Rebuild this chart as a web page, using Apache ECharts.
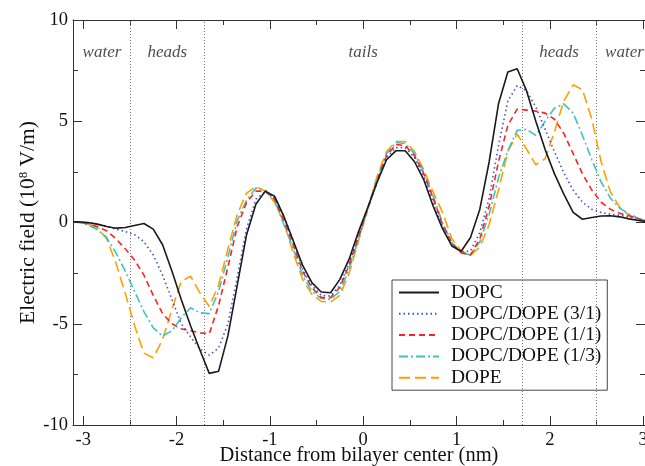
<!DOCTYPE html>
<html>
<head>
<meta charset="utf-8">
<script src="https://cdn.jsdelivr.net/npm/echarts@6/dist/echarts.min.js"></script>
<style>
  html, body { margin: 0; padding: 0; background: #fff; }
  #chart { width: 645px; height: 466px; }
</style>
</head>
<body>
<div id="chart"></div>
<script>
// distance from bilayer center (nm)
const distance = [
  -3.11, -3.05, -2.95, -2.85, -2.75, -2.65, -2.55, -2.45, -2.35, -2.25, -2.15, -2.05,
  -1.95, -1.85, -1.75, -1.65, -1.55, -1.45, -1.35, -1.25, -1.15, -1.05, -0.95, -0.85,
  -0.75, -0.65, -0.55, -0.45, -0.35, -0.25, -0.15, -0.05, 0.05, 0.15, 0.25, 0.35,
  0.45, 0.55, 0.65, 0.75, 0.85, 0.95, 1.05, 1.15, 1.25, 1.35, 1.45, 1.55,
  1.65, 1.75, 1.85, 1.95, 2.05, 2.15, 2.25, 2.35, 2.45, 2.55, 2.65, 2.75,
  2.85, 2.95, 3.05, 3.11
]

// electric field (10^8 V/m)
const dopc = [
  0.03, 0.03, 0.0, -0.08, -0.2, -0.28, -0.25, -0.15, -0.05, -0.33, -1.1, -2.4,
  -3.8, -5.1, -6.3, -7.45, -7.35, -5.6, -3.1, -0.6, 0.9, 1.55, 1.3, 0.3,
  -0.9, -2.1, -2.97, -3.43, -3.47, -2.81, -1.8, -0.45, 0.75, 2.0, 3.1, 3.54,
  3.54, 3.0, 2.1, 0.8, -0.3, -1.16, -1.42, -0.74, 0.66, 3.0, 5.86, 7.43,
  7.59, 6.51, 5.0, 3.6, 2.4, 1.4, 0.5, 0.16, 0.25, 0.32, 0.33, 0.28,
  0.18, 0.1, 0.04, 0.0
]
const dopcDope31 = [
  0.03, 0.02, -0.02, -0.08, -0.18, -0.33, -0.45, -0.6, -0.95, -1.6, -2.6, -3.8,
  -5.0, -5.65, -6.25, -6.55, -6.2, -5.0, -2.7, -0.3, 1.15, 1.52, 1.24, 0.3,
  -0.9, -2.3, -3.1, -3.6, -3.63, -3.1, -2.0, -0.6, 0.7, 2.0, 3.2, 3.7,
  3.7, 3.2, 2.3, 1.0, -0.2, -1.1, -1.45, -1.4, -0.5, 1.2, 3.8, 6.0,
  6.76, 6.51, 5.7, 4.6, 3.5, 2.45, 1.6, 1.0, 0.65, 0.5, 0.41, 0.36,
  0.28, 0.15, 0.05, 0.0
]
const dopcDope11 = [
  0.03, 0.02, -0.06, -0.2, -0.41, -0.8, -1.3, -1.85, -2.6, -3.6, -4.5, -5.0,
  -5.25, -5.35, -5.45, -5.5, -4.1, -2.2, -0.2, 0.99, 1.55, 1.55, 1.15, 0.1,
  -1.1, -2.4, -3.22, -3.71, -3.71, -3.2, -2.1, -0.7, 0.7, 2.1, 3.3, 3.85,
  3.8, 3.3, 2.4, 1.2, -0.1, -1.0, -1.5, -1.6, -0.8, 0.8, 3.0, 4.8,
  5.6, 5.55, 5.5, 5.4, 5.1, 4.4, 3.4, 2.4, 1.6, 1.0, 0.65, 0.45,
  0.33, 0.18, 0.06, 0.0
]
const dopcDope13 = [
  0.03, 0.0, -0.12, -0.35, -0.74, -1.5, -2.4, -3.4, -4.4, -5.2, -5.6, -5.35,
  -4.7, -4.21, -4.46, -4.5, -3.4, -1.7, 0.1, 1.1, 1.7, 1.6, 1.1, -0.1,
  -1.3, -2.6, -3.4, -3.75, -3.8, -3.4, -2.3, -0.8, 0.7, 2.2, 3.4, 3.95,
  3.9, 3.4, 2.5, 1.3, 0.0, -1.0, -1.5, -1.6, -0.95, 0.4, 2.2, 3.55,
  4.55, 4.6, 4.3, 5.0, 5.65, 5.86, 5.4, 4.3, 3.1, 2.0, 1.2, 0.7,
  0.42, 0.2, 0.06, 0.0
]
const dope = [
  0.03, 0.02, -0.06, -0.25, -0.8, -2.0, -3.5, -5.1, -6.45, -6.68, -5.78, -4.3,
  -2.9, -2.65, -3.47, -4.15, -3.1, -1.3, 0.4, 1.45, 1.78, 1.55, 1.0, 0.0,
  -1.5, -2.8, -3.55, -3.9, -3.93, -3.6, -2.5, -0.9, 0.7, 2.3, 3.5, 4.0,
  4.0, 3.5, 2.6, 1.5, 0.5, -0.8, -1.4, -1.62, -1.2, -0.1, 1.6, 3.5,
  4.37, 3.63, 2.85, 3.15, 4.5, 6.0, 6.8, 6.55, 5.1, 3.0, 1.5, 0.75,
  0.35, 0.18, 0.06, 0.0
]

const seriesNames = ['DOPC', 'DOPC/DOPE (3/1)', 'DOPC/DOPE (1/1)', 'DOPC/DOPE (1/3)', 'DOPE']
const seriesValues = [dopc, dopcDope31, dopcDope11, dopcDope13, dope]

// region boundaries and labels
const boundaries = [-2.5, -1.7, 1.7, 2.5]
const regionNames = ['water', 'heads', 'tails', 'heads', 'water']
const regionX = [-2.8, -2.1, 0, 2.1, 2.8]
const regionY = 8.4

const xMajorTicks = [-3, -2, -1, 0, 1, 2, 3]
const xMinorTicks = [-2.5, -1.5, -0.5, 0.5, 1.5, 2.5]

const colors = ['#1a1a1a', '#3a56c8', '#ff2222', '#3ec4bc', '#ffa000']
const dashes = ['solid', [1.5, 3], [6, 4], [9, 3, 2, 3], [11, 5]]

const serif = 'Liberation Serif'
const frameColor = '#333'

const chart = echarts.init(document.getElementById('chart'))

// the picture is cut at the right, just past x = 3
const xCommon = (pos, ticks, len, showLabel, showLine) => ({
  type: 'value',
  position: pos,
  min: -3.11,
  max: 3.02,
  axisLine: { show: showLine, onZero: false, lineStyle: { color: frameColor, width: 1 } },
  axisTick: { show: true, inside: true, length: len, customValues: ticks, lineStyle: { color: frameColor } },
  axisLabel: showLabel
    ? { show: true, customValues: ticks, margin: 6, color: '#111', fontFamily: serif, fontSize: 18.5 }
    : { show: false },
  splitLine: { show: false }
})

const yCommon = (pos, showLabel) => ({
  type: 'value',
  position: pos,
  min: -10,
  max: 10,
  interval: 5,
  axisLine: { show: true, onZero: false, lineStyle: { color: frameColor } },
  axisTick: { show: true, inside: true, length: 9, lineStyle: { color: frameColor } },
  minorTick: { show: true, splitNumber: 2, length: 5, lineStyle: { color: frameColor } },
  axisLabel: showLabel
    ? { margin: 5, color: '#111', fontFamily: serif, fontSize: 18.5 }
    : { show: false },
  splitLine: { show: false }
})

const lineSeries = seriesNames.map((name, i) => ({
  name,
  type: 'line',
  xAxisIndex: 0,
  yAxisIndex: 0,
  data: distance.map((d, k) => [d, seriesValues[i][k]]),
  symbol: 'none',
  smooth: false,
  z: 10 - i,
  itemStyle: { color: colors[i] },
  lineStyle: { color: colors[i], width: 1.6, type: dashes[i] }
}))

const option = {
  animation: false,
  backgroundColor: '#fff',
  grid: { left: 73, top: 20, right: 0, bottom: 41, containLabel: false, outerBoundsMode: 'none' },
  legend: {
    data: seriesNames,
    orient: 'vertical',
    left: 392,
    top: 280,
    padding: [3, 6, 3, 6],
    itemGap: 2.3,
    itemWidth: 40,
    itemHeight: 14,
    backgroundColor: '#fff',
    borderColor: '#444',
    borderWidth: 1,
    borderRadius: 0,
    itemStyle: { color: 'transparent', borderWidth: 0, opacity: 0 },
    textStyle: { fontFamily: serif, fontSize: 19.4, color: '#111', padding: [0, 0, 0, 7] }
  },
  xAxis: [
    Object.assign(xCommon('bottom', xMajorTicks, 9, true, true), {
      name: 'Distance from bilayer center (nm)',
      nameLocation: 'middle',
      nameGap: 20,
      nameMoveOverlap: false,
      nameTextStyle: { fontFamily: serif, fontSize: 20.5, color: '#111' }
    }),
    xCommon('bottom', xMinorTicks, 5, false, false),
    xCommon('top', xMajorTicks, 9, false, true),
    xCommon('top', xMinorTicks, 5, false, false)
  ],
  yAxis: [
    Object.assign(yCommon('left', true), {
      name: '{a|Electric field (10}{s|8}{a| V/m)}',
      nameLocation: 'middle',
      nameRotate: 90,
      nameGap: 33,
      nameMoveOverlap: false,
      nameTextStyle: {
        rich: {
          a: { fontFamily: serif, fontSize: 21.5, color: '#111' },
          s: { fontFamily: serif, fontSize: 13, color: '#111', padding: [0, 0, 10, 0] }
        }
      }
    }),
    yCommon('right', false)
  ],
  series: [
    {
      name: 'regions',
      type: 'scatter',
      xAxisIndex: 0,
      yAxisIndex: 0,
      symbolSize: 0,
      silent: true,
      data: regionNames.map((n, i) => ({ value: [regionX[i], regionY], name: n })),
      label: {
        show: true,
        position: 'inside',
        formatter: p => p.name,
        fontFamily: serif,
        fontStyle: 'italic',
        fontSize: 17,
        color: '#222'
      },
      markLine: {
        silent: true,
        symbol: 'none',
        label: { show: false },
        lineStyle: { color: '#777', type: [1, 2], width: 1 },
        data: boundaries.map(b => ({ xAxis: b }))
      }
    },
    ...lineSeries
  ]
}

chart.setOption(option)
</script>
</body>
</html>
